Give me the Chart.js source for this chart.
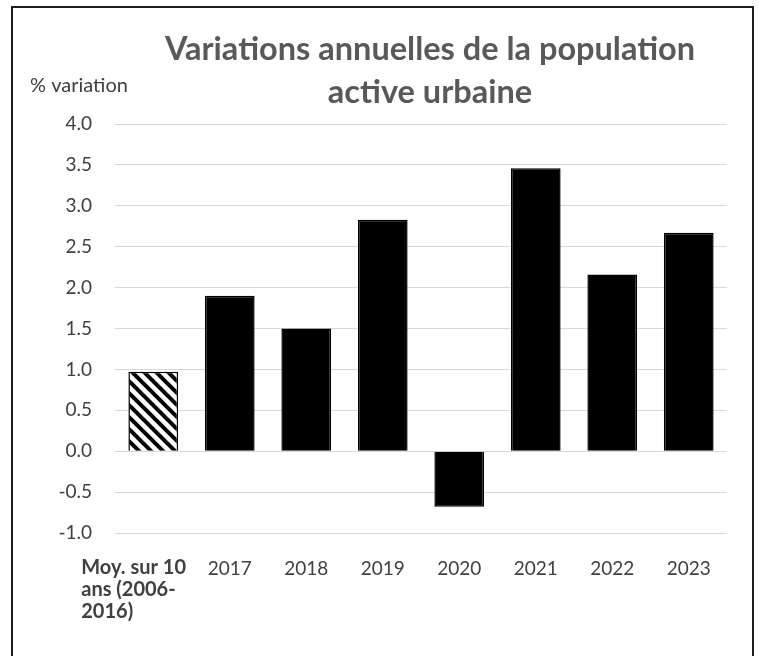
<!DOCTYPE html>
<html>
<head>
<meta charset="utf-8">
<script src="https://cdn.jsdelivr.net/npm/chart.js@4.4.1/dist/chart.umd.min.js"></script>
<style>
  body { margin: 0; background: #fff; }
  #frame {
    position: absolute; left: 11px; top: 6px; width: 739px; height: 700px;
    border: 2px solid #1e1e1e; border-bottom: none;
  }
  canvas { position: absolute; left: 0; top: 0; }
</style>
</head>
<body>
<div id="frame"></div>
<canvas id="chart" width="759" height="656"></canvas>
<script>
const categories = [['Moy. sur 10', 'ans (2006-', '2016)'], '2017', '2018', '2019', '2020', '2021', '2022', '2023'];
const values = [0.97, 1.9, 1.5, 2.83, -0.68, 3.46, 2.16, 2.67];
const titleLines = ['Variations annuelles de la population', 'active urbaine'];
const axisLabel = '% variation';

// diagonal hatch for the 10-year average bar
function hatch() {
    const s = 12;
    const c = document.createElement('canvas');
    c.width = s; c.height = s;
    const g = c.getContext('2d');
    g.fillStyle = '#fff';
    g.fillRect(0, 0, s, s);
    g.strokeStyle = '#000';
    g.lineWidth = 4;
    for (const k of [-s, 0, s]) {
        g.beginPath();
        g.moveTo(-2, -2 + k);
        g.lineTo(s + 2, s + 2 + k);
        g.stroke();
    }
    return g.createPattern(c, 'repeat');
}

const textColor = '#404040';

const headerPlugin = {
    id: 'header',
    afterDraw(chart) {
        const ctx = chart.ctx;
        const x = chart.scales.x;
        ctx.save();
        // title
        ctx.fillStyle = '#595959';
        ctx.font = 'bold 32.5px Lato';
        ctx.textAlign = 'center';
        ctx.textBaseline = 'middle';
        ctx.fillText(titleLines[0], 430, 50);
        ctx.fillText(titleLines[1], 430, 93);
        // axis caption
        ctx.fillStyle = textColor;
        ctx.font = '20px Lato';
        ctx.textAlign = 'left';
        ctx.fillText(axisLabel, 30, 86);
        // first category label, left aligned and bold like the original
        ctx.font = 'bold 20px Lato';
        const left = x.getPixelForTick(0) - 72;
        categories[0].forEach((line, i) => {
            ctx.fillText(line, left, chart.chartArea.bottom + 35 + i * 22);
        });
        ctx.restore();
    }
};

new Chart(document.getElementById('chart'), {
    type: 'bar',
    data: {
        labels: categories,
        datasets: [{
            data: values,
            backgroundColor: values.map((v, i) => i === 0 ? hatch() : '#000'),
            borderColor: '#000',
            borderWidth: 1.5,
            barPercentage: 0.65,
            categoryPercentage: 1
        }]
    },
    options: {
        responsive: false,
        animation: false,
        layout: { padding: { top: 124, right: 32, left: 0, bottom: 0 } },
        plugins: {
            legend: { display: false },
            tooltip: { enabled: false }
        },
        scales: {
            x: {
                grid: { display: false, drawTicks: false },
                border: { display: false },
                ticks: {
                    color: textColor,
                    font: { family: 'Lato', size: 19 },
                    padding: 24,
                    maxRotation: 0,
                    callback: function (v, i) { return i === 0 ? '' : this.getLabelForValue(v); }
                },
                afterFit: s => { s.height = 123; }
            },
            y: {
                min: -1,
                max: 4,
                ticks: {
                    stepSize: 0.5,
                    color: textColor,
                    font: { family: 'Lato', size: 19 },
                    padding: 23,
                    callback: v => v.toFixed(1)
                },
                grid: { color: '#d9d9d9', drawTicks: false },
                border: { display: false },
                afterFit: s => { s.width = 115; }
            }
        }
    },
    plugins: [headerPlugin]
});
</script>
</body>
</html>
